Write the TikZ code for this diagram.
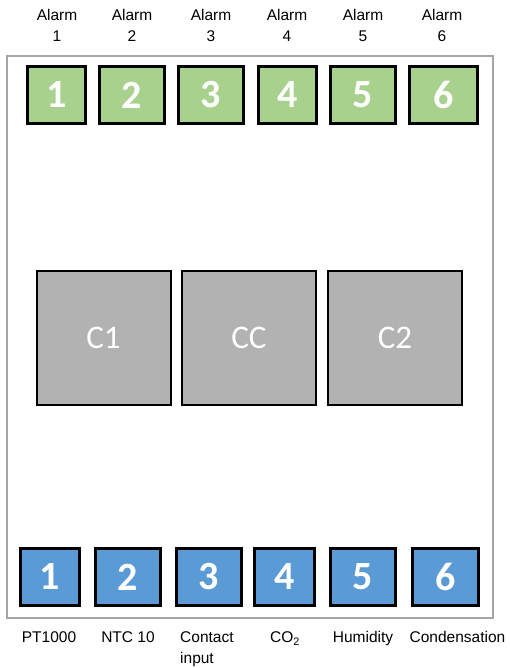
\documentclass[tikz,border=0pt]{standalone}
\usepackage{fontspec}
\setmainfont{Liberation Sans}
\newfontfamily\boxfont{Carlito}
\usepackage{xcolor}
\usetikzlibrary{positioning}

\definecolor{alarmgreen}{HTML}{A9D18E}
\definecolor{inputblue}{HTML}{5B9BD5}
\definecolor{chipgray}{HTML}{B2B2B2}
\definecolor{framegray}{HTML}{A6A6A6}

\begin{document}
\begin{tikzpicture}[
        x=1pt, y=-1pt,
        % Define the style for the small terminal squares
        alarmbox/.style={
            rectangle, draw=black, line width=3pt, fill=alarmgreen,
            minimum height=57pt, inner sep=0pt, text=white,
            font=\boxfont\bfseries\fontsize{40}{40}\selectfont
        },
        inputbox/.style={
            alarmbox, fill=inputblue
        },
        chipbox/.style={
            rectangle, draw=black, line width=2pt, fill=chipgray,
            minimum width=134pt, minimum height=134pt, inner sep=0pt,
            text=white, font=\boxfont\fontsize{33}{33}\selectfont
        },
        caption/.style={
            inner sep=0pt, align=center,
            font=\fontsize{15.5}{21}\selectfont
        }
    ]
    \useasboundingbox (0,0) rectangle (509,668);

        % ==========================
        % HOUSING (BACKGROUND)
        % ==========================
        \draw[framegray, line width=1.5pt] (7,56) rectangle (493,618);

        % ==========================
        % ALARM OUTPUTS
        % ==========================
        \node[alarmbox, minimum width=58pt] (alarmA) at (56.5, 95)  {1};
        \node[alarmbox, minimum width=65pt] (alarmB) at (132, 95)   {2};
        \node[alarmbox, minimum width=65pt] (alarmC) at (211, 95)   {3};
        \node[alarmbox, minimum width=58pt] (alarmD) at (287.5, 95) {4};
        \node[alarmbox, minimum width=65pt] (alarmE) at (363, 95)   {5};
        \node[alarmbox, minimum width=68pt] (alarmF) at (443.5, 95) {6};

        \node[caption, anchor=north] (capA) at (57, 9.5)  {Alarm\\1};
        \node[caption, anchor=north] (capB) at (132, 9.5) {Alarm\\2};
        \node[caption, anchor=north] (capC) at (211, 9.5) {Alarm\\3};
        \node[caption, anchor=north] (capD) at (287, 9.5) {Alarm\\4};
        \node[caption, anchor=north] (capE) at (363, 9.5) {Alarm\\5};
        \node[caption, anchor=north] (capF) at (442, 9.5) {Alarm\\6};

        % ==========================
        % CHANNELS
        % ==========================
        \node[chipbox] (chipA)  at (103.5, 338) {C1};
        \node[chipbox] (chipCC) at (249, 338)   {CC};
        \node[chipbox] (chipB)  at (395, 338)   {C2};

        % ==========================
        % SENSOR INPUTS
        % ==========================
        \node[inputbox, minimum width=59pt] (inA) at (50, 577)    {1};
        \node[inputbox, minimum width=65pt] (inB) at (128, 577)   {2};
        \node[inputbox, minimum width=65pt] (inC) at (209, 577)   {3};
        \node[inputbox, minimum width=60pt] (inD) at (284.5, 577) {4};
        \node[inputbox, minimum width=65pt] (inE) at (363, 577)   {5};
        \node[inputbox, minimum width=66pt] (inF) at (445.5, 577) {6};

        \node[caption, anchor=north] (labA) at (49, 631.5)  {PT1000};
        \node[caption, anchor=north] (labB) at (128, 631.5) {NTC 10};
        \node[caption, anchor=north west, align=left] (labC) at (180, 631.5) {Contact\\input};
        \node[caption, anchor=north] (labD) at (285, 631.5) {CO\textsubscript{2}};
        \node[caption, anchor=north] (labE) at (363, 631.5) {Humidity};
        \node[caption, anchor=north] (labF) at (457.5, 631.5) {Condensation};

    \end{tikzpicture}
\end{document}
